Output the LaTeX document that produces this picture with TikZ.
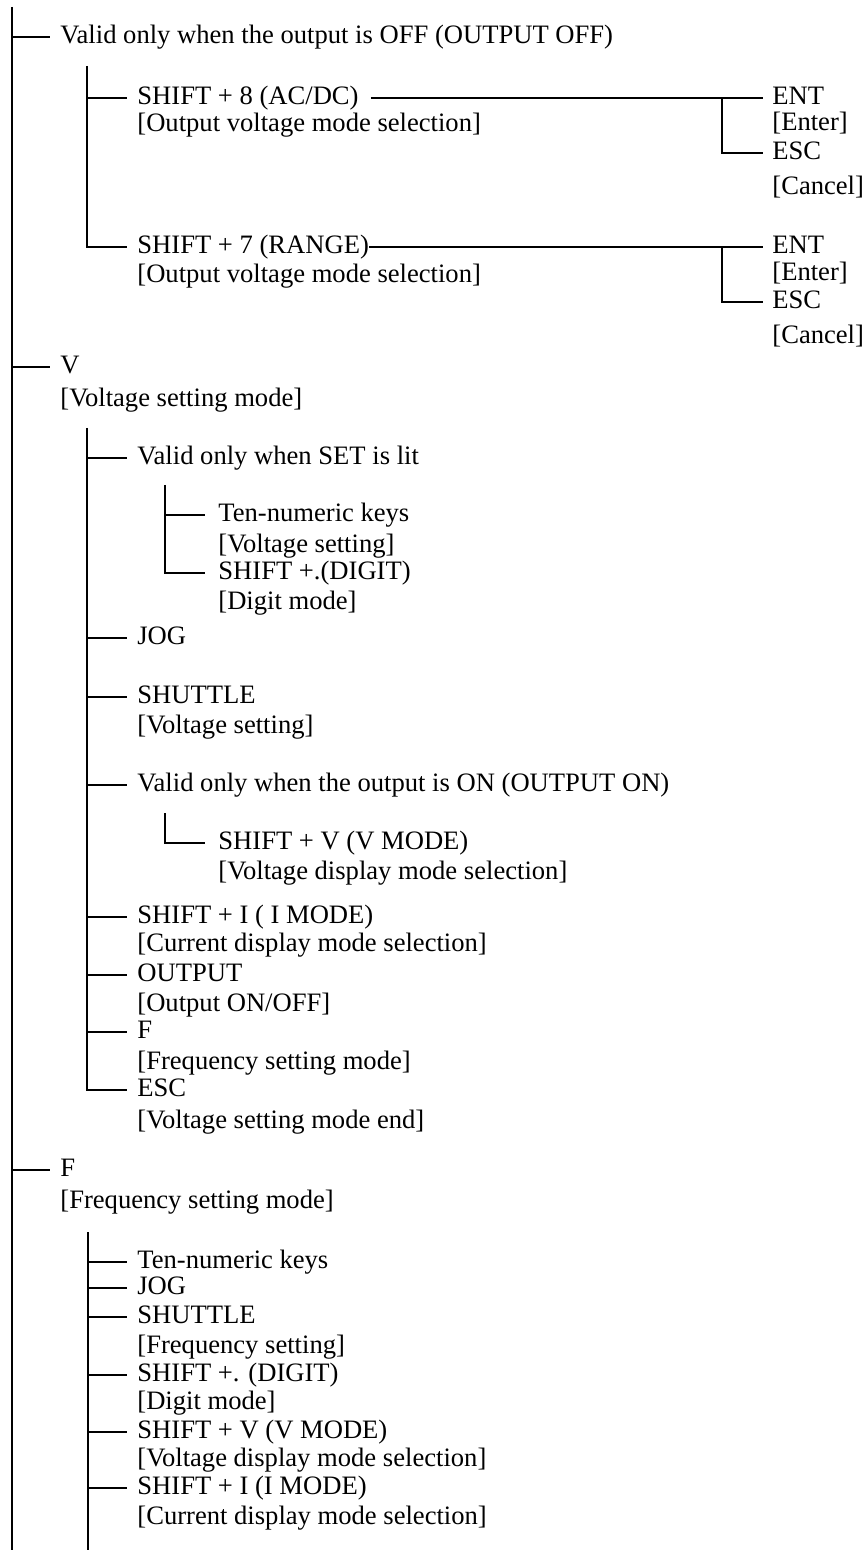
\documentclass[tikz,border=0pt]{standalone}
\usepackage{fontspec}
\setmainfont{Liberation Serif}
\begin{document}
\begin{tikzpicture}[x=0.5pt,y=-0.5pt,
  txt/.style={anchor=west,inner sep=0pt,text height=0.662em,text depth=0pt,font=\fontsize{13.3}{15}\selectfont},
  wire/.style={line width=1pt,line cap=butt}]
\useasboundingbox (0,0) rectangle (867,1550);
% ---------- level 1 ----------
\node[txt] (n1) at (60,37) {Valid only when the output is OFF (OUTPUT OFF)};
\node[txt] (nV) at (60,367) {V};
\node[txt] (nVd) at (60,400) {[Voltage setting mode]};
\node[txt] (nF) at (60,1170) {F};
\node[txt] (nFd) at (60,1202) {[Frequency setting mode]};
% ---------- under OUTPUT OFF ----------
\node[txt] (o8) at (137,98) {SHIFT + 8 (AC/DC)};
\node[txt] (o8d) at (137,125) {[Output voltage mode selection]};
\node[txt] (o7) at (137,247) {SHIFT + 7 (RANGE)};
\node[txt] (o7d) at (137,276) {[Output voltage mode selection]};
\node[txt] (e1) at (772,98) {ENT};
\node[txt] (e1d) at (772,124) {[Enter]};
\node[txt] (s1) at (772,153) {ESC};
\node[txt] (s1d) at (772,188) {[Cancel]};
\node[txt] (e2) at (772,247) {ENT};
\node[txt] (e2d) at (772,274) {[Enter]};
\node[txt] (s2) at (772,302) {ESC};
\node[txt] (s2d) at (772,337) {[Cancel]};
% ---------- under V ----------
\node[txt] (p1) at (137,458) {Valid only when SET is lit};
\node[txt] (q1) at (218,515) {Ten-numeric keys};
\node[txt] (q1d) at (218,546) {[Voltage setting]};
\node[txt] (q2) at (218,573) {SHIFT +.(DIGIT)};
\node[txt] (q2d) at (218,603) {[Digit mode]};
\node[txt] (p2) at (137,638) {JOG};
\node[txt] (p3) at (137,697) {SHUTTLE};
\node[txt] (p3d) at (137,727) {[Voltage setting]};
\node[txt] (p4) at (137,785) {Valid only when the output is ON (OUTPUT ON)};
\node[txt] (q3) at (218,843) {SHIFT + V (V MODE)};
\node[txt] (q3d) at (218,873) {[Voltage display mode selection]};
\node[txt] (p5) at (137,917) {SHIFT + I ( I MODE)};
\node[txt] (p5d) at (137,945) {[Current display mode selection]};
\node[txt] (p6) at (137,975) {OUTPUT};
\node[txt] (p6d) at (137,1005) {[Output ON/OFF]};
\node[txt] (p7) at (137,1032) {F};
\node[txt] (p7d) at (137,1063) {[Frequency setting mode]};
\node[txt] (p8) at (137,1090) {ESC};
\node[txt] (p8d) at (137,1122) {[Voltage setting mode end]};
% ---------- under F ----------
\node[txt] (r1) at (137,1262) {Ten-numeric keys};
\node[txt] (r2) at (137,1288) {JOG};
\node[txt] (r3) at (137,1317) {SHUTTLE};
\node[txt] (r3d) at (137,1347) {[Frequency setting]};
\node[txt] (r4) at (137,1375) {SHIFT +. (DIGIT)};
\node[txt] (r4d) at (137,1403) {[Digit mode]};
\node[txt] (r5) at (137,1432) {SHIFT + V (V MODE)};
\node[txt] (r5d) at (137,1460) {[Voltage display mode selection]};
\node[txt] (r6) at (137,1488) {SHIFT + I (I MODE)};
\node[txt] (r6d) at (137,1518) {[Current display mode selection]};
% ---------- vertical trunk coordinates ----------
\coordinate (t0) at (12,7);
\coordinate (t1) at (12,1550);
\coordinate (u0) at (87,66);
\coordinate (u1) at (87,428);
\coordinate (u2) at (88,1232);
\coordinate (u3) at (88,1550);
\coordinate (w1) at (165,485);
\coordinate (w2) at (165,813);
\coordinate (j1) at (722,98);
\coordinate (j2) at (722,247);
% ---------- connectors ----------
\draw[wire] (t0) -- (t1);
\foreach \n in {n1,nV,nF}{\draw[wire] (t0 |- \n.west) -- ([xshift=-5pt]\n.west);}
% OUTPUT OFF subtree
\draw[wire] (u0) |- ([xshift=-5pt]o7.west);
\draw[wire] (u0 |- o8.west) -- ([xshift=-5pt]o8.west);
\draw[wire] ([xshift=6pt]o8.east) -- ([xshift=-4.5pt]e1.west);
\draw[wire] (o7.east) -- ([xshift=-4.5pt]e2.west);
\draw[wire] (j1) |- ([xshift=-4.5pt]s1.west);
\draw[wire] (j2) |- ([xshift=-4.5pt]s2.west);
% V subtree
\draw[wire] (u1) |- ([xshift=-5pt]p8.west);
\foreach \n in {p1,p2,p3,p4,p5,p6,p7}{\draw[wire] (u1 |- \n.west) -- ([xshift=-5pt]\n.west);}
\draw[wire] (w1) |- ([xshift=-6.5pt]q2.west);
\draw[wire] (w1 |- q1.west) -- ([xshift=-6.5pt]q1.west);
\draw[wire] (w2) |- ([xshift=-6.5pt]q3.west);
% F subtree
\draw[wire] (u2) -- (u3);
\foreach \n in {r1,r2,r3,r4,r5,r6}{\draw[wire] (u2 |- \n.west) -- ([xshift=-5pt]\n.west);}
\end{tikzpicture}
\end{document}
